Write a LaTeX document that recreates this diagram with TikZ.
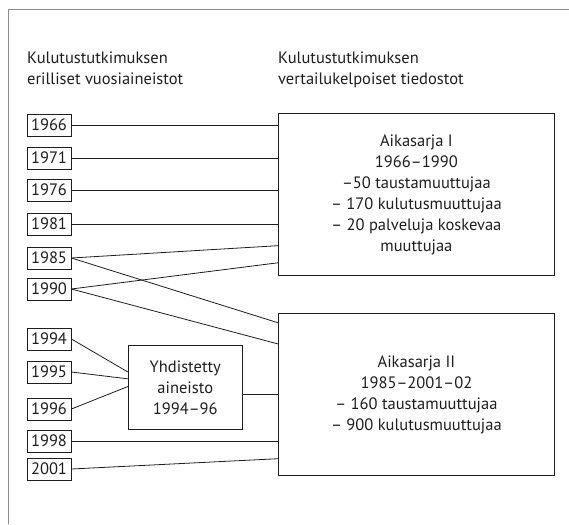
\documentclass[tikz,border=0pt]{standalone}
\usepackage{fontspec}
\setmainfont{PT Sans}
\definecolor{InkGray}{RGB}{30, 30, 30}
\definecolor{FrameGray}{RGB}{140, 140, 140}
\usepackage{tikz}
\usetikzlibrary{positioning, calc}

\begin{document}
\begin{tikzpicture}[
            x=1pt, y=-1pt,
            every node/.style={text=InkGray, font=\fontsize{16.5pt}{21pt}\selectfont},
            head/.style={anchor=north west, inner sep=0pt, align=left},
            yearbox/.style={rectangle, draw=InkGray, line width=0.8pt, minimum width=44pt,
                        minimum height=22pt, inner sep=0pt},
            seriesbox/.style={rectangle, draw=InkGray, line width=0.8pt, anchor=north west,
                        minimum width=276pt, minimum height=162pt, align=center, inner sep=0pt},
            combbox/.style={rectangle, draw=InkGray, line width=0.6pt, anchor=north west,
                        minimum width=114pt, minimum height=84pt, align=center, inner sep=0pt},
            link/.style={InkGray, line width=0.8pt},
            frame/.style={FrameGray, line width=0.6pt}
        ]
            \useasboundingbox (0,0) rectangle (569,524);

            % Frame
            \draw[frame] (8,524) -- (8,9) -- (569,9);

            % Headings
            \node[head] (headL) at (27,52) {Kulutustutkimuksen\\erilliset vuosiaineistot};
            \node[head] (headR) at (278,52) {Kulutustutkimuksen\\vertailukelpoiset tiedostot};

            % Yearly data sets
            \node[yearbox] (y1966) at (49,125) {1966};
            \node[yearbox] (y1971) at (49,158) {1971};
            \node[yearbox] (y1976) at (49,190) {1976};
            \node[yearbox] (y1981) at (49,224) {1981};
            \node[yearbox] (y1985) at (49,258) {1985};
            \node[yearbox] (y1990) at (49,289) {1990};
            \node[yearbox] (y1994) at (49,339) {1994};
            \node[yearbox] (y1995) at (49,372) {1995};
            \node[yearbox] (y1996) at (49,409) {1996};
            \node[yearbox] (y1998) at (49,441) {1998};
            \node[yearbox] (y2001) at (49,469) {2001};

            % Comparable files
            \node[seriesbox] (serI) at (278,113) {Aikasarja I\\1966–1990\\–50 taustamuuttujaa\\– 170 kulutusmuuttujaa\\– 20 palveluja koskevaa\\muuttujaa};
            \node[seriesbox] (serII) at (278,313) {Aikasarja II\\1985–2001–02\\– 160 taustamuuttujaa\\– 900 kulutusmuuttujaa};
            \node[combbox] (comb) at (128,345) {Yhdistetty\\aineisto\\1994–96};

            % Links to Aikasarja I
            \draw[link] (y1966.east) -- (y1966.east -| serI.west);
            \draw[link] (y1971.east) -- (y1971.east -| serI.west);
            \draw[link] (y1976.east) -- (y1976.east -| serI.west);
            \draw[link] (y1981.east) -- (y1981.east -| serI.west);
            \draw[link] (y1985.east) -- ($(serI.north west)!0.815!(serI.south west)$);
            \draw[link] (y1990.east) -- ($(serI.north west)!0.92!(serI.south west)$);

            % Links to Aikasarja II
            \draw[link] (y1985.east) -- ($(serII.north west)!0.06!(serII.south west)$);
            \draw[link] (y1990.east) -- ($(serII.north west)!0.19!(serII.south west)$);
            \draw[link] (y1994.east) -- ($(comb.north west)!0.32!(comb.south west)$);
            \draw[link] (y1995.east) -- ($(comb.north west)!0.40!(comb.south west)$);
            \draw[link] (y1996.east) -- ($(comb.north west)!0.49!(comb.south west)$);
            \draw[link] (comb.east |- serII.west) -- (serII.west);
            \draw[link] (y1998.east) -- (y1998.east -| serII.west);
            \draw[link] (y2001.east) -- ($(serII.north west)!0.895!(serII.south west)$);
        \end{tikzpicture}
\end{document}
